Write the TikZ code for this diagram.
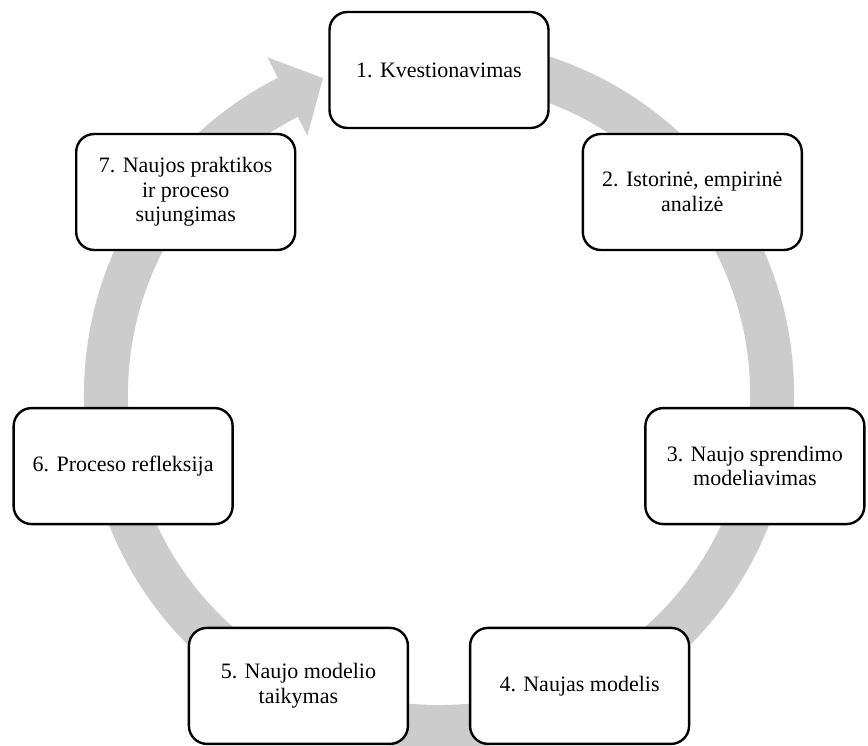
\documentclass[tikz,border=0pt]{standalone}
\usepackage{fontspec}
\setmainfont{Liberation Serif}
\definecolor{ringgray}{RGB}{204,204,204}
\begin{document}
\begin{tikzpicture}[x=1pt,y=1pt,
  stage/.style={draw=black, line width=2.4pt, fill=white, rounded corners=18pt,
    minimum width=219pt, minimum height=116pt, inner sep=0pt, align=center,
    font=\fontsize{22}{24.5}\selectfont}]
\useasboundingbox (0,0) rectangle (868,745);
\coordinate (O) at (439,351);

% circular arrow running clockwise behind the stages
\draw[ringgray, line width=44pt] ([shift={(80:333)}]O) arc[start angle=80, end angle=-243.5, radius=333];
\coordinate (base) at ([shift={(117:334)}]O);
\coordinate (wingout) at ([shift={(117:378)}]O);
\coordinate (wingin) at ([shift={(117:290)}]O);
\coordinate (tip) at ([shift={(27:40)}]base);
\fill[ringgray] (wingout) -- (tip) -- (wingin) -- cycle;

% stages placed evenly on the circle
\node[stage] (s1) at ([shift={(90:324)}]O) {1. Kvestionavimas};
\node[stage] (s2) at ([shift={(38.571:324)}]O) {2. Istorinė, empirinė\\analizė};
\node[stage] (s3) at ([shift={(-12.857:324)}]O) {3. Naujo sprendimo\\modeliavimas};
\node[stage] (s4) at ([shift={(-64.286:324)}]O) {4. Naujas modelis};
\node[stage] (s5) at ([shift={(-115.714:324)}]O) {5. Naujo modelio\\taikymas};
\node[stage] (s6) at ([shift={(-167.143:324)}]O) {6. Proceso refleksija};
\node[stage] (s7) at ([shift={(141.429:324)}]O) {7. Naujos praktikos\\ir proceso\\sujungimas};
\end{tikzpicture}
\end{document}
